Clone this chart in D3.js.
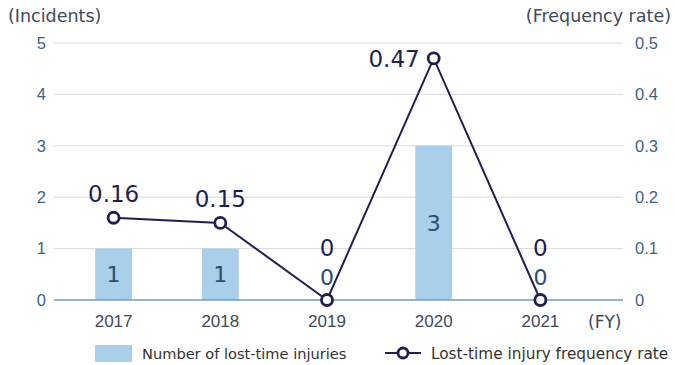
<!DOCTYPE html>
<html>
<head>
<meta charset="utf-8">
<script src="https://cdn.jsdelivr.net/npm/d3@7"></script>
<style>
  html, body { margin: 0; padding: 0; background: #fff; }
  svg { display: block; font-family: Verdana, "DejaVu Sans", sans-serif; }
</style>
</head>
<body>
<svg id="chart" width="675" height="365"></svg>
<script>
// Fiscal years and the two series
const years = ["2017", "2018", "2019", "2020", "2021"];
const injuries = [1, 1, 0, 3, 0];
const rates = [0.16, 0.15, 0, 0.47, 0];
const leftTicks = [0, 1, 2, 3, 4, 5];
const rightTicks = [0, 0.1, 0.2, 0.3, 0.4, 0.5];

const svg = d3.select("#chart");
const plotLeft = 60, plotRight = 594, plotTop = 43, plotBottom = 300;
const gridLeft = 54, gridRight = 623;

const x = d3.scaleBand().domain(years).range([plotLeft, plotRight]).paddingInner(0.655).paddingOuter(0.33);
const yL = d3.scaleLinear().domain([0, 5]).range([plotBottom, plotTop]);
const yR = d3.scaleLinear().domain([0, 0.5]).range([plotBottom, plotTop]);

const tickColor = "#3d6488";
const lineColor = "#1f1f52";
const barColor = "#a9cfea";

// Horizontal gridlines
svg.append("g").selectAll("line").data(leftTicks.filter(d => d > 0)).join("line")
  .attr("x1", gridLeft).attr("x2", gridRight)
  .attr("y1", d => yL(d)).attr("y2", d => yL(d))
  .attr("stroke", "#dadada").attr("stroke-width", 1);

// Bars
const cx = d => x(d) + x.bandwidth() / 2;
svg.append("g").selectAll("rect").data(years).join("rect")
  .attr("x", d => x(d)).attr("width", x.bandwidth())
  .attr("y", (d, i) => yL(injuries[i]))
  .attr("height", (d, i) => plotBottom - yL(injuries[i]))
  .attr("fill", barColor);

// Baseline
svg.append("line").attr("x1", gridLeft).attr("x2", gridRight)
  .attr("y1", plotBottom).attr("y2", plotBottom)
  .attr("stroke", "#6f9cc0").attr("stroke-width", 1.5);

// Left axis
const axL = svg.append("g").attr("transform", `translate(46,0)`)
  .call(d3.axisLeft(yL).tickValues(leftTicks).tickSize(0).tickPadding(0).tickFormat(d3.format("d")));
axL.select(".domain").remove();
axL.selectAll("text").attr("fill", tickColor).style("font-size", "16.5px");

// Right axis
const axR = svg.append("g").attr("transform", `translate(635,0)`)
  .call(d3.axisRight(yR).tickValues(rightTicks).tickSize(0).tickPadding(0)
    .tickFormat(d => d === 0 ? "0" : d3.format(".1f")(d)));
axR.select(".domain").remove();
axR.selectAll("text").attr("fill", tickColor).style("font-size", "16.5px");

// Bottom axis
const axB = svg.append("g").attr("transform", `translate(0,${plotBottom})`)
  .call(d3.axisBottom(x).tickSize(0).tickPadding(15));
axB.select(".domain").remove();
axB.selectAll("text").attr("fill", "#3d4a5a").style("font-size", "17px");

svg.append("text").attr("x", 588).attr("y", 328).attr("fill", "#3d4a5a")
  .style("font-size", "17px").text("(FY)");

// Axis titles
svg.append("text").attr("x", 8).attr("y", 22).attr("fill", "#3d4a5a")
  .style("font-size", "17.5px").text("(Incidents)");
svg.append("text").attr("x", 671).attr("y", 22).attr("text-anchor", "end").attr("fill", "#3d4a5a")
  .style("font-size", "17.5px").text("(Frequency rate)");

// Bar value labels
svg.append("g").selectAll("text").data(years).join("text")
  .attr("x", cx)
  .attr("y", (d, i) => injuries[i] > 0 ? (yL(injuries[i]) + plotBottom) / 2 + 8 : plotBottom - 15)
  .attr("text-anchor", "middle").attr("fill", "#2d4d6e")
  .style("font-size", "22px")
  .text((d, i) => injuries[i]);

// Frequency rate line
const line = d3.line().x((d, i) => cx(years[i])).y(d => yR(d));
svg.append("path").datum(rates).attr("d", line)
  .attr("fill", "none").attr("stroke", lineColor).attr("stroke-width", 2);
svg.append("g").selectAll("circle").data(rates).join("circle")
  .attr("cx", (d, i) => cx(years[i])).attr("cy", d => yR(d)).attr("r", 5.5)
  .attr("fill", "#fff").attr("stroke", lineColor).attr("stroke-width", 2.8);

// Rate labels
svg.append("g").selectAll("text").data(rates).join("text")
  .attr("x", (d, i) => d >= 0.4 ? cx(years[i]) - 14 : cx(years[i]))
  .attr("y", d => d >= 0.4 ? yR(d) + 9 : (d === 0 ? plotBottom - 44 : yR(d) - 16))
  .attr("text-anchor", d => d >= 0.4 ? "end" : "middle").attr("fill", lineColor)
  .style("font-size", "23px")
  .text(d => d === 0 ? "0" : d3.format(".2f")(d));

// Legend
const lg = svg.append("g");
lg.append("rect").attr("x", 95).attr("y", 345).attr("width", 37).attr("height", 17).attr("fill", barColor);
lg.append("text").attr("x", 142).attr("y", 359).attr("fill", "#333").style("font-size", "14.6px")
  .text("Number of lost-time injuries");
lg.append("line").attr("x1", 385).attr("x2", 421).attr("y1", 353).attr("y2", 353)
  .attr("stroke", lineColor).attr("stroke-width", 2);
lg.append("circle").attr("cx", 403).attr("cy", 353).attr("r", 5)
  .attr("fill", "#fff").attr("stroke", lineColor).attr("stroke-width", 2.8);
lg.append("text").attr("x", 431).attr("y", 359).attr("fill", "#333").style("font-size", "15.3px")
  .text("Lost-time injury frequency rate");
</script>
</body>
</html>
